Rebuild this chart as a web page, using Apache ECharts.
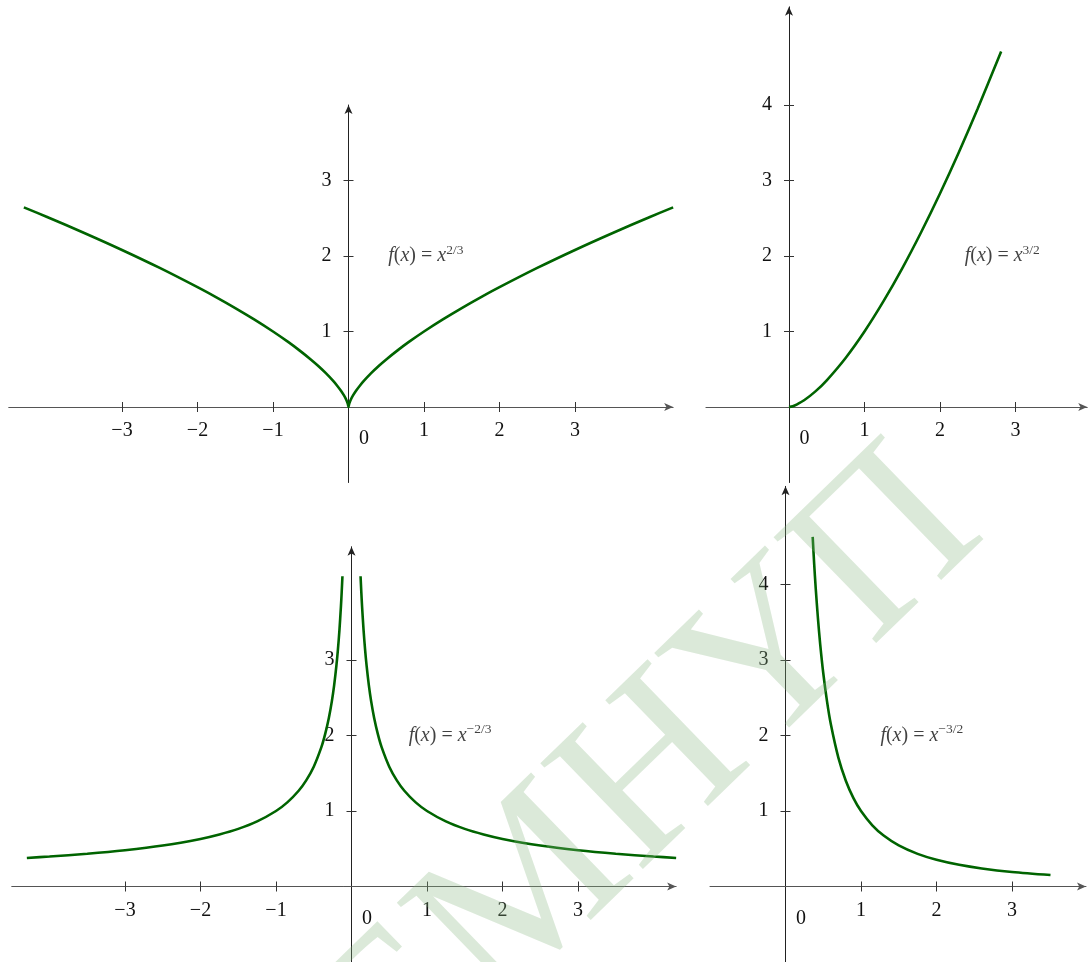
<!DOCTYPE html>
<html>
<head>
<meta charset="utf-8">
<title>Power functions</title>
<script src="https://cdn.jsdelivr.net/npm/echarts@6.0.0/dist/echarts.min.js"></script>
<style>
html, body { margin: 0; padding: 0; background: #fff; }
#chart { width: 1088px; height: 962px; }
</style>
</head>
<body>
<div id="chart"></div>
<script>
// f(x) = x^(2/3)
var xA = [-4.3, -4, -3.5, -3, -2.5, -2, -1.75, -1.5, -1.25, -1, -0.8, -0.65, -0.5, -0.4, -0.3, -0.2, -0.15, -0.1, -0.06, -0.03, -0.01,
          0, 0.01, 0.03, 0.06, 0.1, 0.15, 0.2, 0.3, 0.4, 0.5, 0.65, 0.8, 1, 1.25, 1.5, 1.75, 2, 2.5, 3, 3.5, 4, 4.3];
var yA = [2.644, 2.520, 2.305, 2.080, 1.842, 1.587, 1.452, 1.310, 1.160, 1, 0.862, 0.750, 0.630, 0.543, 0.448, 0.342, 0.282, 0.215, 0.153, 0.097, 0.046,
          0, 0.046, 0.097, 0.153, 0.215, 0.282, 0.342, 0.448, 0.543, 0.630, 0.750, 0.862, 1, 1.160, 1.310, 1.452, 1.587, 1.842, 2.080, 2.305, 2.520, 2.644];

// f(x) = x^(3/2), top-right panel
var xB = [0, 0.05, 0.1, 0.2, 0.35, 0.5, 0.75, 1, 1.25, 1.5, 1.75, 2, 2.25, 2.5, 2.81];
var yB = [0, 0.011, 0.032, 0.089, 0.207, 0.354, 0.650, 1, 1.398, 1.837, 2.315, 2.828, 3.375, 3.953, 4.710];

// f(x) = x^(-2/3), bottom-left panel, two branches
var xCl = [-4.3, -4, -3.5, -3, -2.5, -2, -1.75, -1.5, -1.25, -1, -0.85, -0.7, -0.6, -0.5, -0.4, -0.35, -0.3, -0.26, -0.23, -0.2, -0.18, -0.16, -0.14, -0.13, -0.12];
var yCl = [0.378, 0.397, 0.434, 0.481, 0.543, 0.630, 0.689, 0.763, 0.862, 1, 1.114, 1.268, 1.406, 1.587, 1.842, 2.014, 2.232, 2.455, 2.664, 2.924, 3.137, 3.393, 3.709, 3.897, 4.110];
var xCr = [0.12, 0.13, 0.14, 0.16, 0.18, 0.2, 0.23, 0.26, 0.3, 0.35, 0.4, 0.5, 0.6, 0.7, 0.85, 1, 1.25, 1.5, 1.75, 2, 2.5, 3, 3.5, 4, 4.3];
var yCr = [4.110, 3.897, 3.709, 3.393, 3.137, 2.924, 2.664, 2.455, 2.232, 2.014, 1.842, 1.587, 1.406, 1.268, 1.114, 1, 0.862, 0.763, 0.689, 0.630, 0.543, 0.481, 0.434, 0.397, 0.378];

// f(x) = x^(-3/2), bottom-right panel
var xD = [0.36, 0.38, 0.4, 0.43, 0.46, 0.5, 0.55, 0.6, 0.7, 0.8, 0.9, 1, 1.15, 1.3, 1.5, 1.75, 2, 2.3, 2.6, 3, 3.51];
var yD = [4.630, 4.269, 3.953, 3.547, 3.205, 2.828, 2.452, 2.152, 1.708, 1.398, 1.171, 1, 0.811, 0.675, 0.544, 0.432, 0.354, 0.287, 0.239, 0.193, 0.152];

// ticks and tick labels
var ticksXBoth = [-3, -2, -1, 1, 2, 3];
var labelsXBoth = [-3, -2, -1, 0, 1, 2, 3];
var ticksXPos = [1, 2, 3];
var labelsXPos = [0, 1, 2, 3];
var ticksY3 = [1, 2, 3];
var ticksY4 = [1, 2, 3, 4];

var FONT = "'Liberation Serif', 'DejaVu Serif', serif";
var UNIT = 75.5;
var INK = '#111';
var CURVE = '#006400';

var panels = [
    { ox: 348.5, oy: 407, xMin: -4.5, xMax: 4.3, yMin: -1, yMax: 4,
      xTicks: ticksXBoth, xLabels: labelsXBoth, yTicks: ticksY3,
      curves: [[xA, yA]], at: [0.52, 2], sup: '2/3' },
    { ox: 789, oy: 407, xMin: -1.1, xMax: 3.95, yMin: -1, yMax: 5.3,
      xTicks: ticksXPos, xLabels: labelsXPos, yTicks: ticksY4,
      curves: [[xB, yB]], at: [2.32, 2], sup: '3/2' },
    { ox: 351.5, oy: 886.5, xMin: -4.5, xMax: 4.3, yMin: -1, yMax: 4.5,
      xTicks: ticksXBoth, xLabels: labelsXBoth, yTicks: ticksY3,
      curves: [[xCl, yCl], [xCr, yCr]], at: [0.75, 2], sup: '\u22122/3' },
    { ox: 785.5, oy: 886.5, xMin: -1, xMax: 3.98, yMin: -1, yMax: 5.3,
      xTicks: ticksXPos, xLabels: labelsXPos, yTicks: ticksY4,
      curves: [[xD, yD]], at: [1.25, 2], sup: '\u22123/2' }
];

function tickText(v) {
    if (v === 0) {
        return '{z|0}';
    }
    return v < 0 ? '\u2212' + (-v) : String(v);
}

var tickStyle = { color: '#333', width: 1 };

var option = {
    animation: false,
    backgroundColor: '#fff',
    grid: [],
    xAxis: [],
    yAxis: [],
    series: [],
    graphic: [{
        type: 'text',
        x: 651,
        y: 779,
        rotation: 0.77,
        z: 100,
        silent: true,
        style: {
            text: '\u0415\u041c\u041dY\u041f',
            fontFamily: FONT,
            fontSize: 225,
            fill: 'rgba(135,182,128,0.3)',
            align: 'center',
            verticalAlign: 'middle'
        }
    }]
};

panels.forEach(function (p, i) {
    option.grid.push({
        left: p.ox + p.xMin * UNIT,
        top: p.oy - p.yMax * UNIT,
        width: (p.xMax - p.xMin) * UNIT,
        height: (p.yMax - p.yMin) * UNIT,
        outerBoundsMode: 'none',
        containLabel: false
    });

    // the axes cross at 0: shift them in from the grid edges with offset
    option.xAxis.push({
        type: 'value', gridIndex: i, position: 'bottom',
        offset: p.yMin * UNIT,
        min: p.xMin, max: p.xMax,
        axisLine: { onZero: false, symbol: ['none', 'arrow'], symbolSize: [6, 9],
                    lineStyle: { color: '#555', width: 1 } },
        axisTick: { customValues: p.xTicks, length: 5, lineStyle: tickStyle },
        axisLabel: {
            customValues: p.xLabels, margin: 14, formatter: tickText,
            fontFamily: FONT, fontSize: 20, color: INK,
            rich: { z: { fontFamily: FONT, fontSize: 20, color: INK, padding: [8, 0, 0, 31] } }
        },
        splitLine: { show: false }
    });
    // a second axis on the other side draws the inner half of each tick
    option.xAxis.push({
        type: 'value', gridIndex: i, position: 'top',
        offset: -p.yMax * UNIT,
        min: p.xMin, max: p.xMax,
        axisLine: { show: false, onZero: false },
        axisTick: { customValues: p.xTicks, length: 5, lineStyle: tickStyle },
        axisLabel: { show: false },
        splitLine: { show: false }
    });
    option.yAxis.push({
        type: 'value', gridIndex: i, position: 'left',
        offset: p.xMin * UNIT,
        min: p.yMin, max: p.yMax,
        axisLine: { onZero: false, symbol: ['none', 'arrow'], symbolSize: [6, 9],
                    lineStyle: { color: '#222', width: 1 } },
        axisTick: { customValues: p.yTicks, length: 5, lineStyle: tickStyle },
        axisLabel: { customValues: p.yTicks, margin: 17, formatter: tickText,
                     fontFamily: FONT, fontSize: 20, color: INK },
        splitLine: { show: false }
    });
    option.yAxis.push({
        type: 'value', gridIndex: i, position: 'right',
        offset: -p.xMax * UNIT,
        min: p.yMin, max: p.yMax,
        axisLine: { show: false, onZero: false },
        axisTick: { customValues: p.yTicks, length: 5, lineStyle: tickStyle },
        axisLabel: { show: false },
        splitLine: { show: false }
    });

    p.curves.forEach(function (c) {
        option.series.push({
            type: 'line',
            xAxisIndex: 2 * i,
            yAxisIndex: 2 * i,
            data: c[0].map(function (x, k) { return [x, c[1][k]]; }),
            showSymbol: false,
            smooth: 0.3,
            lineStyle: { color: CURVE, width: 2.6 },
            z: 3
        });
    });

    // formula text, anchored in data space
    option.series.push({
        type: 'scatter',
        xAxisIndex: 2 * i,
        yAxisIndex: 2 * i,
        data: [p.at],
        symbolSize: 1,
        itemStyle: { color: 'rgba(0,0,0,0)' },
        label: {
            show: true,
            position: 'right',
            distance: 0,
            formatter: '{i|f}{n|(}{i|x}{n|) = }{i|x}{s|' + p.sup + '}',
            rich: {
                i: { fontFamily: FONT, fontStyle: 'italic', fontSize: 20, color: INK, lineHeight: 26 },
                n: { fontFamily: FONT, fontSize: 20, color: INK, lineHeight: 26 },
                s: { fontFamily: FONT, fontSize: 13.5, color: INK, lineHeight: 13, verticalAlign: 'top' }
            }
        }
    });
});

var chart = echarts.init(document.getElementById('chart'));
chart.setOption(option);
</script>
</body>
</html>
